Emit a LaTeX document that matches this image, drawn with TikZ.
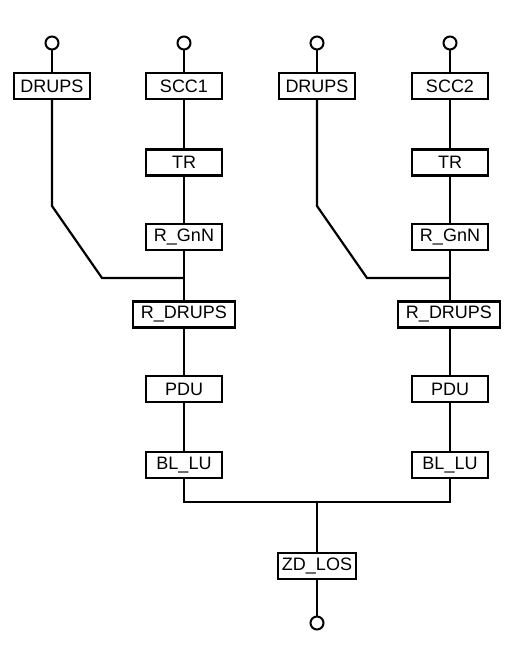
\documentclass[tikz,border=0pt]{standalone}
\usepackage{fontspec}
\setmainfont{Liberation Sans}
\begin{document}
\begin{tikzpicture}[x=1pt,y=-1pt,
  box/.style={draw,line width=2.2pt,minimum height=26pt,inner sep=0pt,
    font=\fontsize{18}{20}\selectfont},
  bw/.style={minimum width=76pt},
  wide/.style={minimum width=102pt},
  term/.style={draw,circle,line width=2pt,minimum size=13pt,inner sep=0pt},
  wire/.style={line width=2.2pt}]
\useasboundingbox (0,0) rectangle (523,650);
% top terminals
\node[term] (t1) at (52,43) {};
\node[term] (t2) at (184,43) {};
\node[term] (t3) at (317,43) {};
\node[term] (t4) at (450,43) {};
% row 1
\node[box,bw] (drups1) at (52,86) {DRUPS};
\node[box,bw] (scc1) at (184,86) {SCC1};
\node[box,bw] (drups2) at (317,86) {DRUPS};
\node[box,bw] (scc2) at (450,86) {SCC2};
% left column
\node[box,bw] (tr1) at (184,162.5) {TR};
\node[box,bw] (rg1) at (184,237) {R\_GnN};
\node[box,wide] (rd1) at (184,314.5) {R\_DRUPS};
\node[box,bw] (pdu1) at (184,389) {PDU};
\node[box,bw] (bl1) at (184,465) {BL\_LU};
% right column
\node[box,bw] (tr2) at (450,162.5) {TR};
\node[box,bw] (rg2) at (450,237) {R\_GnN};
\node[box,wide] (rd2) at (449,314.5) {R\_DRUPS};
\node[box,bw] (pdu2) at (450,389) {PDU};
\node[box,bw] (bl2) at (450,465) {BL\_LU};
% output
\node[box,minimum width=78pt] (zd) at (317,566) {ZD\_LOS};
\node[term] (t5) at (317,623) {};
% coordinates
\coordinate (k1) at (52,206);
\coordinate (d1) at (102,278);
\coordinate (j1) at (184,278);
\coordinate (k2) at (317,206);
\coordinate (d2) at (367,278);
\coordinate (j2) at (450,278);
\coordinate (bus) at (317,502);
% wires
\draw[wire] (t1) -- (drups1);
\draw[wire] (t2) -- (scc1);
\draw[wire] (t3) -- (drups2);
\draw[wire] (t4) -- (scc2);
\draw[wire] (scc1) -- (tr1);
\draw[wire] (tr1) -- (rg1);
\draw[wire] (rg1) -- (rd1);
\draw[wire] (rd1) -- (pdu1);
\draw[wire] (pdu1) -- (bl1);
\draw[wire] (scc2) -- (tr2);
\draw[wire] (tr2) -- (rg2);
\draw[wire] (rg2.south) -- (rd2.north -| rg2.south);
\draw[wire] (rd2.south -| pdu2.north) -- (pdu2);
\draw[wire] (pdu2) -- (bl2);
\draw[wire,line join=miter] (drups1) -- (k1) -- (d1) -- (j1);
\draw[wire,line join=miter] (drups2) -- (k2) -- (d2) -- (j2);
\draw[wire,line join=miter] (bl1.south) |- (bus) -| (bl2.south);
\draw[wire] (bus) -- (zd);
\draw[wire] (zd) -- (t5);
\end{tikzpicture}
\end{document}
